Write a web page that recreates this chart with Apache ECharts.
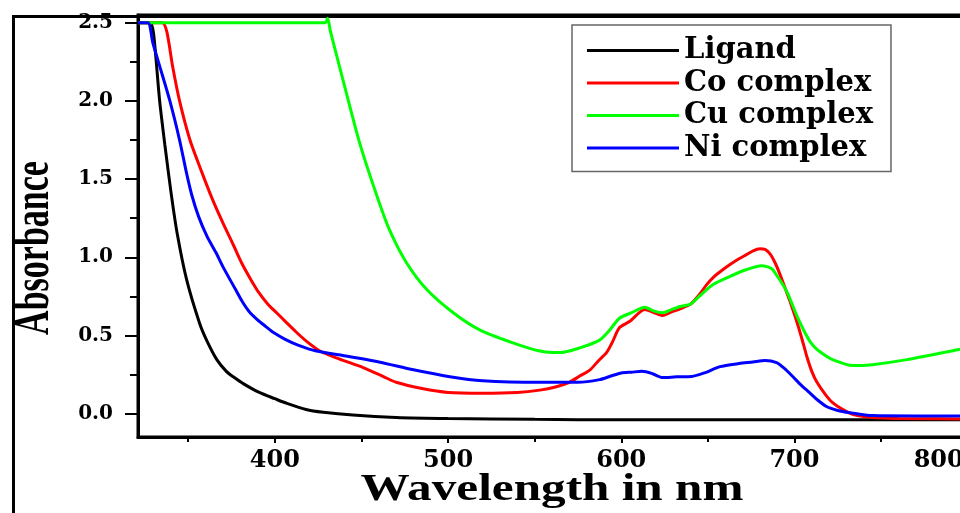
<!DOCTYPE html>
<html>
<head>
<meta charset="utf-8">
<script src="https://cdn.jsdelivr.net/npm/echarts@6/dist/echarts.min.js"></script>
<style>
  html, body { margin: 0; padding: 0; background: #fff; }
  #chart { width: 960px; height: 513px; }
</style>
</head>
<body>
<div id="chart"></div>
<script>
// axis ticks
const xMajorTicks = [400, 500, 600, 700, 800]
const xMinorTicks = [350, 450, 550, 650, 750]
const yMajorTicks = [0, 0.5, 1.0, 1.5, 2.0, 2.5]
const yMinorTicks = [0.25, 0.75, 1.25, 1.75, 2.25]

// Ligand
const ligandWl = [321, 328, 330, 333.5, 336.5, 340, 343.5, 349, 356.5, 361, 366.5, 372, 376, 382, 391, 400, 407, 418, 428, 445, 470, 500, 550, 600, 650, 700, 750, 810]
const ligandAbs = [2.5, 2.5, 2.43, 2.0, 1.72, 1.42, 1.16, 0.86, 0.58, 0.46, 0.345, 0.27, 0.235, 0.19, 0.135, 0.095, 0.065, 0.026, 0.008, -0.01, -0.025, -0.032, -0.037, -0.04, -0.04, -0.04, -0.04, -0.04]

// Co complex
const coWl = [321, 335, 337.7, 341, 345, 351, 358, 364, 370, 376, 381, 386, 391, 396, 401, 406, 412, 418, 426, 437, 451, 463, 470, 485, 500, 520, 540, 553, 562, 570, 576, 582, 587, 591.5, 595, 599, 605, 613.5, 619, 624, 629, 634, 640, 645, 649, 653, 658, 663, 668, 672, 676, 680, 683, 686, 689, 692, 695, 698, 701, 704, 707, 710, 713, 718, 722, 728, 734, 745, 760, 810]
const coAbs = [2.5, 2.5, 2.44, 2.22, 2.0, 1.75, 1.54, 1.37, 1.22, 1.08, 0.96, 0.86, 0.77, 0.70, 0.645, 0.59, 0.525, 0.465, 0.40, 0.35, 0.294, 0.235, 0.2, 0.16, 0.135, 0.13, 0.135, 0.15, 0.17, 0.2, 0.24, 0.28, 0.34, 0.39, 0.46, 0.55, 0.59, 0.665, 0.645, 0.627, 0.65, 0.67, 0.70, 0.76, 0.82, 0.87, 0.915, 0.955, 0.99, 1.015, 1.04, 1.055, 1.05, 1.02, 0.96, 0.88, 0.79, 0.70, 0.60, 0.49, 0.37, 0.27, 0.2, 0.12, 0.07, 0.025, -0.006, -0.026, -0.032, -0.035]

// Cu complex
const cuWl = [321, 429, 430.5, 432, 439, 449, 459, 466, 476, 488, 503, 518, 537, 553, 564.5, 576, 587.5, 593, 599, 606, 613.5, 619, 624, 629, 634, 640, 645, 653, 662.5, 672, 681, 684, 687, 690, 693, 696, 699, 702, 705, 709, 713, 718, 722, 733.5, 745, 765, 795, 810]
const cuAbs = [2.5, 2.5, 2.53, 2.45, 2.15, 1.73, 1.39, 1.18, 0.965, 0.79, 0.645, 0.537, 0.454, 0.40, 0.39, 0.42, 0.47, 0.53, 0.61, 0.645, 0.68, 0.655, 0.645, 0.665, 0.685, 0.70, 0.75, 0.825, 0.876, 0.92, 0.946, 0.94, 0.925, 0.88, 0.83, 0.77, 0.69, 0.61, 0.54, 0.46, 0.41, 0.37, 0.345, 0.307, 0.313, 0.345, 0.41, 0.44]

// Ni complex
const niWl = [321, 326.7, 329.6, 333.6, 339.4, 345, 349, 352, 356, 361, 366, 370, 377, 381, 385, 390, 395, 399, 406, 413, 424, 440, 460, 480, 501, 520, 553, 575, 587.5, 594, 600, 606, 612, 618, 624, 632, 640.6, 648, 657, 668, 676, 683, 689.7, 694, 699, 704, 708.7, 713, 718.5, 725, 731.8, 745, 770, 810]
const niAbs = [2.5, 2.5, 2.37, 2.22, 2.0, 1.75, 1.54, 1.40, 1.26, 1.13, 1.03, 0.94, 0.80, 0.72, 0.655, 0.60, 0.555, 0.52, 0.475, 0.44, 0.40, 0.37, 0.33, 0.28, 0.236, 0.21, 0.2, 0.2, 0.217, 0.24, 0.26, 0.265, 0.27, 0.255, 0.23, 0.235, 0.237, 0.26, 0.3, 0.32, 0.33, 0.34, 0.326, 0.29, 0.237, 0.18, 0.134, 0.09, 0.045, 0.02, 0.006, -0.013, -0.015, -0.015]

const FONT = 'DejaVu Serif'

const pairs = (xs, ys) => xs.map((x, i) => [x, ys[i]])

const makeLine = (name, color, xs, ys) => {
  return {
    type: 'line',
    name: name,
    data: pairs(xs, ys),
    showSymbol: false,
    smooth: 0.25,
    color: color,
    lineStyle: { width: 3, color: color },
    emphasis: { disabled: true },
  }
}

const chart = echarts.init(document.getElementById('chart'))

const option = {
  animation: false,
  backgroundColor: '#fff',
  grid: {
    left: 138,
    top: 15,
    right: -25,
    bottom: 76,
    show: true,
    borderColor: '#000',
    borderWidth: 3,
    outerBoundsMode: 'none',
  },
  legend: {
    orient: 'vertical',
    left: 572,
    top: 25,
    icon: 'rect',
    itemWidth: 92,
    itemHeight: 3,
    itemGap: 3.5,
    padding: [11, 18, 9, 15],
    borderColor: '#666',
    borderWidth: 1.5,
    selectedMode: false,
    textStyle: { fontFamily: FONT, fontWeight: 'bold', fontSize: 29, lineHeight: 28, color: '#000' },
    data: ['Ligand', 'Co complex', 'Cu complex', 'Ni complex'],
  },
  xAxis: [
    {
      type: 'value',
      min: 321,
      max: 810,
      position: 'bottom',
      axisLine: { onZero: false, lineStyle: { color: '#000', width: 3 } },
      axisTick: { customValues: xMajorTicks, length: 6, lineStyle: { color: '#000', width: 2 } },
      axisLabel: {
        customValues: xMajorTicks,
        margin: 12,
        fontFamily: FONT, fontWeight: 'bold', fontSize: 24, color: '#000',
        formatter: (v) => (v === 800 ? '{r|800}' : String(v)),
        rich: {
          r: { fontFamily: FONT, fontWeight: 'bold', fontSize: 24, color: '#000', padding: [0, 58, 0, 0] },
        },
      },
      splitLine: { show: false },
    },
    {
      type: 'value',
      min: 321,
      max: 810,
      position: 'bottom',
      axisLine: { show: false, onZero: false },
      axisTick: { customValues: xMinorTicks, length: 5, lineStyle: { color: '#000', width: 2 } },
      axisLabel: { show: false },
      splitLine: { show: false },
    },
  ],
  yAxis: [
    {
      type: 'value',
      min: -0.15,
      max: 2.55,
      position: 'left',
      axisLine: { onZero: false, lineStyle: { color: '#000', width: 3 } },
      axisTick: { customValues: yMajorTicks, length: 13, lineStyle: { color: '#000', width: 2 } },
      axisLabel: {
        customValues: yMajorTicks,
        margin: 25,
        fontFamily: FONT, fontWeight: 'bold', fontSize: 20, color: '#000',
        formatter: (v) => v.toFixed(1),
      },
      splitLine: { show: false },
    },
    {
      type: 'value',
      min: -0.15,
      max: 2.55,
      position: 'left',
      axisLine: { show: false, onZero: false },
      axisTick: { customValues: yMinorTicks, length: 8, lineStyle: { color: '#000', width: 2 } },
      axisLabel: { show: false },
      splitLine: { show: false },
    },
  ],
  graphic: [
    {
      type: 'rect',
      left: 11,
      top: 14,
      shape: { width: 1100, height: 600 },
      style: { fill: 'none', stroke: '#000', lineWidth: 3 },
      silent: true,
    },
    // axis titles, stretched like the original figure
    {
      type: 'text',
      x: 552,
      y: 490,
      scaleX: 1.33,
      style: {
        text: 'Wavelength in nm',
        font: 'bold 37px "Liberation Serif"',
        fill: '#000',
        textAlign: 'center',
        textVerticalAlign: 'middle',
      },
      silent: true,
    },
    {
      type: 'text',
      x: 35,
      y: 248,
      rotation: Math.PI / 2,
      scaleY: 1.5,
      style: {
        text: 'Absorbance',
        font: 'bold 34px "Liberation Serif"',
        fill: '#000',
        textAlign: 'center',
        textVerticalAlign: 'middle',
      },
      silent: true,
    },
  ],
  series: [
    makeLine('Ligand', '#000000', ligandWl, ligandAbs),
    makeLine('Co complex', '#ff0000', coWl, coAbs),
    makeLine('Cu complex', '#00ff00', cuWl, cuAbs),
    makeLine('Ni complex', '#0000ff', niWl, niAbs),
  ],
}

chart.setOption(option)
</script>
</body>
</html>
